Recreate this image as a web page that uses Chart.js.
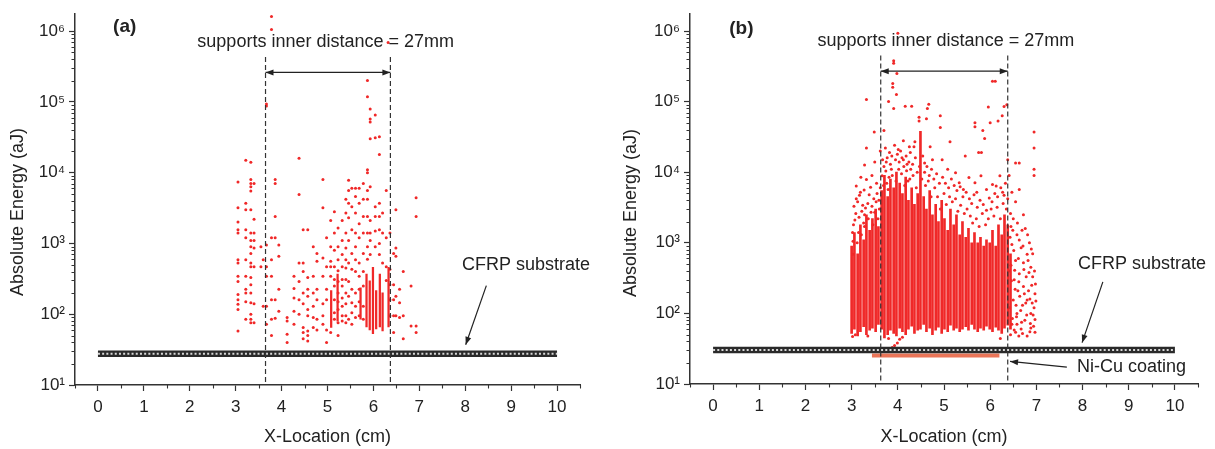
<!DOCTYPE html>
<html><head><meta charset="utf-8">
<script src="https://cdn.jsdelivr.net/npm/chart.js@4.4.0/dist/chart.umd.min.js"></script>
<style>
html,body{margin:0;padding:0;background:#fff;}
#wrap{position:relative;width:1215px;height:449px;overflow:hidden;}
canvas{position:absolute;top:0;}
#ca{left:0;}
#cb{left:607px;}
</style></head><body>
<div id="wrap"><canvas id="ca" width="607" height="449"></canvas><canvas id="cb" width="608" height="449"></canvas></div>
<script>
const FONT = '"Liberation Sans", Arial, Helvetica, sans-serif';
const RED = '#f02828';

// tick values
const xTickValues = [-0.5,0,0.5,1,1.5,2,2.5,3,3.5,4,4.5,5,5.5,6,6.5,7,7.5,8,8.5,9,9.5,10,10.5];
const xTickLabels = ['','0','','1','','2','','3','','4','','5','','6','','7','','8','','9','','10',''];
const yTickValues = [10,20,30,40,50,60,70,80,90,100,200,300,400,500,600,700,800,900,
  1000,2000,3000,4000,5000,6000,7000,8000,9000,10000,20000,30000,40000,50000,60000,70000,80000,90000,
  100000,200000,300000,400000,500000,600000,700000,800000,900000,1000000];
const yMajorLabels = {10:'10\u00B9',100:'10\u00B2',1000:'10\u00B3',10000:'10\u2074',100000:'10\u2075',1000000:'10\u2076'};

// ---- panel (a): scattered AE hits, grouped by x-location [x (cm), energies (aJ)]
const aScatter = [
 [3.05,[7400,3200,2000,1560,1400,590,530,345,290,190,160,138,117,58]],
 [3.22,[15000,3700,3000,1560,1200,590,345,225,200,150,85]],
 [3.33,[14000,8000,7000,6300,5500,3000,1400,1100,900,720,530,470,330,260,200,145,100,85,76]],
 [3.40,[7000,2200,1400,1100,860,470,140,76]],
 [3.55,[900,470]],
 [3.60,[590,130]],
 [3.67,[93000,87000,950,470,345,130,72]],
 [3.78,[1600000,1050000,1200,590,345,160,85,50]],
 [3.86,[8000,7000,2400,1200,160,88]],
 [3.94,[950,660,225,110]],
 [4.12,[90,80,52,40]],
 [4.27,[345,230,170,110,72]],
 [4.38,[16000,4900,530,290,160,100]],
 [4.47,[1560,530,400,200,140,65,55,45]],
 [4.57,[1560,330,225,180,117,95,58,50,42]],
 [4.69,[900,345,200,130,90,65]],
 [4.77,[720,560,225,160,85,60]],
 [4.90,[8000,3200,620,345,140,95,72]],
 [4.98,[1200,470,225,160,60,40]],
 [5.07,[2100,900,560,470,345,55]],
 [5.15,[2800,1400,800,470,310,250,160,105,85]],
 [5.23,[1650,900,590,410,290,200,150,117,76,50]],
 [5.32,[2100,1100,700,470,310,250,170,130,95,80]],
 [5.40,[4200,2700,1400,860,590,450,310,200,140,95,76]],
 [5.46,[7800,5600,3700,2300,1100,530,290,180,85]],
 [5.53,[6000,3300,1560,720,430,225,145,105,72]],
 [5.61,[6000,4600,2700,1400,900,590,400,200,130,90]],
 [5.69,[6000,3700,1900,1200,530,345,225,150,95]],
 [5.78,[7000,4200,2400,1400,720,400,250,130,85]],
 [5.87,[200000,118000,11000,10000,5600,4200,2400,1400,900,600]],
 [5.93,[79000,57000,52000,30000,6300,2100,1400,1100,700]],
 [6.04,[65000,31000,3300,2400,1500,900]],
 [6.13,[32000,18000,3700,2400,1560,1000,700]],
 [6.20,[2700,1400,530]],
 [6.28,[5600,1200,470,300]],
 [6.32,[690000]],
 [6.36,[1400,430,260,160,95]],
 [6.44,[720,260,160,95,55]],
 [6.49,[3000,860,660,180,95]],
 [6.57,[225,145,90]],
 [6.65,[400,95,45]],
 [6.82,[250,68]],
 [6.93,[4400,2400,68,55]]
];
// dense runs of hits in (a): [x, lowest, highest]
const aStreaks = [[5.08,65,215],[5.22,80,370],[5.72,85,235],[5.85,66,370],[5.92,60,295],
  [5.99,53,460],[6.06,62,215],[6.14,66,370],[6.20,58,200],[6.33,66,460]];

// ---- panel (b): dense columns of hits [x, lowest, highest]
const bColumns = [
 [3.00,52,900],[3.06,60,1400],[3.13,48,700],[3.19,55,1800],[3.26,65,1100],[3.32,50,2500],
 [3.39,58,1500],[3.45,62,2200],[3.52,55,3000],[3.58,70,1700],[3.65,60,5500],[3.71,45,9000],
 [3.78,50,4500],[3.84,58,8000],[3.91,52,6000],[3.97,48,10000],[4.04,62,7000],[4.10,55,5000],
 [4.17,50,8500],[4.23,60,4000],[4.30,66,6000],[4.36,52,3500],[4.43,58,5000],[4.49,60,38000],
 [4.56,70,4500],[4.62,55,3000],[4.69,62,5500],[4.75,50,2500],[4.82,58,3500],[4.88,64,2000],
 [4.95,52,4000],[5.01,60,2200],[5.08,55,1500],[5.14,68,3000],[5.21,58,1800],[5.27,62,2500],
 [5.34,55,1300],[5.40,60,2000],[5.47,65,1200],[5.53,58,1600],[5.60,70,1000],[5.66,60,1400],
 [5.73,55,1000],[5.79,62,1200],[5.86,58,900],[5.92,66,1100],[5.99,60,1000],[6.05,55,1500],
 [6.12,64,900],[6.18,58,1800],[6.25,52,1300],[6.31,62,2500],[6.38,68,1800],[6.44,60,700]
];
// scattered hits in (b): [x, energy]
const bScatter = [
 [4.00,930000],[3.91,380000],[3.91,350000],[3.98,250000],[3.89,180000],[3.89,160000],[3.97,126000],
 [6.05,195000],[6.11,195000],[3.32,107000],[3.80,100000],[3.91,80000],[4.16,86000],[4.30,86000],
 [4.67,92000],[4.64,80000],[4.92,63000],[5.96,84000],[6.30,85000],[6.36,90000],[6.26,63000],
 [4.46,60000],[4.46,53000],[4.62,57000],[3.70,39000],[3.49,37000],[6.95,37000],[6.95,22000],
 [6.95,11000],[6.95,9000],[4.92,43000],[5.67,50000],[5.67,44000],[5.84,39000],[6.00,50000],
 [6.17,53000],[3.32,22000],[3.28,12600],[3.62,20000],[4.12,28000],[4.25,23000],[4.37,27000],
 [4.70,23000],[5.13,27000],[5.46,17000],[5.75,19000],[5.81,19000],[5.88,30000],[6.55,13500],
 [6.63,13500],[6.38,15000],
 [3.10,6400],[3.19,5200],[3.10,4200],[3.24,3400],[3.03,1050],[3.03,690],[3.32,7900],[3.41,6100],
 [3.28,2500],[3.53,3800],[3.57,2200],[3.66,8900],[3.74,10400],[3.79,5700],[4.12,15000],[4.20,13000],
 [4.58,13500],[4.75,15000],[4.96,15000],[5.08,11000],[5.25,9800],[5.33,7100],[5.42,5700],[5.54,8400],
 [5.67,7100],[5.71,5200],[5.80,8900],[5.92,5700],[6.05,6700],[6.13,6400],[6.21,8900],[6.30,4700],
 [6.47,5200],[6.55,3800],[6.63,5700],[6.72,2500],[6.76,1600],
 [3.70,12000],[3.76,7000],[3.84,13000],[3.88,9000],[3.95,15000],[4.02,11000],[4.08,9500],[4.15,6500],
 [4.22,7500],[4.28,11000],[4.33,9000],[4.40,6000],[4.52,8000],[4.60,6500],[4.66,7500],[4.72,4500],
 [4.80,6000],[4.86,4500],[4.92,3000],[5.00,5000],[5.05,3500],[5.12,4500],[5.18,3800],[5.25,4200],
 [5.30,2800],[5.36,3400],[5.44,2600],[5.50,3000],[5.57,2400],[5.62,1900],[5.70,2200],[5.76,1700],
 [5.83,2600],[5.90,1800],[5.96,2200],[6.02,3000],[6.08,2400],[6.15,3200],[6.22,2200],[6.28,3600],
 [6.35,3000],[3.04,1800],[3.09,2600],[3.15,1400],[3.22,2800],[3.28,1700],[3.35,3600],[3.42,2700],
 [3.48,4200],[3.55,5000],[3.60,3000],[3.05,3300],[3.17,4700],
 [3.67,15000],[3.73,22000],[3.77,16000],[3.82,19000],[3.86,11000],[3.93,24000],[3.99,18000],[4.03,14000],
 [4.06,20000],[4.13,12000],[4.18,17000],[4.24,14000],[4.27,19000],[4.32,13000],[4.38,16000],[4.42,10000],
 [4.47,12000],[4.54,17000],[4.58,10000],[4.63,12000],[4.68,9000],[4.73,11000],[4.78,8000],[4.84,9500],
 [4.90,7000],[4.97,8500],[5.03,7000],[5.10,6000],[5.16,8000],[5.22,6500],[5.28,5500],[5.35,6200],
 [5.41,4500],[5.48,5200],[5.55,4200],[5.60,3600],[5.65,4800],[5.72,3200],[5.78,4000],[5.85,3500],
 [5.92,2900],[5.98,4300],[6.04,3800],[6.10,5000],[6.16,4500],[6.23,6000],[6.27,5200],[6.33,7000],
 [6.38,4200],[6.41,9000],[3.69,6500],[3.75,14000],[3.81,8500],[3.87,17000],[3.96,7500],[4.01,21000],
 [4.09,16000],[4.19,10500],[4.26,8000],[4.35,23000],
 [3.02,1400],[3.07,2100],[3.12,1000],[3.16,2300],[3.21,1300],[3.26,1900],[3.30,3100],[3.36,2200],
 [3.38,4800],[3.44,3300],[3.46,1800],[3.50,2700],[3.54,7000],[3.59,4000],[3.62,6000],[3.13,3800],
 [3.20,8500],[3.27,5600],[3.44,9000],[3.50,14000],
 [6.50,2200],[6.58,1300],[6.67,850],[6.80,690],[6.88,450],[6.92,330],[6.97,190],[6.47,950],
 [6.55,560],[6.63,365],[6.72,240],[6.80,155],[6.88,100],[6.97,82],[6.67,60],[6.55,54],[6.80,48],
 [6.42,400],[6.50,155],[6.58,100],[6.75,80],[6.88,62],[6.97,54],[6.47,70],[6.63,1100],[6.72,520],
 [6.85,1000],[6.92,700],[6.45,1700],[6.52,300],[6.60,210],[6.70,130],[6.78,330],[6.83,210],
 [6.95,120],[6.90,250],[6.44,2600],[6.42,120],[6.48,85],[6.58,70],
 [6.43,1200],[6.45,480],[6.46,290],[6.49,1500],[6.51,780],[6.53,410],[6.54,220],[6.56,130],
 [6.57,90],[6.59,1900],[6.61,600],[6.62,280],[6.64,175],[6.66,110],[6.68,75],[6.69,1500],
 [6.71,900],[6.73,420],[6.74,190],[6.77,140],[6.79,95],[6.81,1300],[6.82,560],[6.84,380],
 [6.86,160],[6.87,72],[6.89,820],[6.91,140],[6.93,95],[6.96,400],[6.98,260],[6.99,150],
 [6.94,66],[6.86,55],[6.70,52],[6.62,48],[6.52,58],[6.44,50],
 [3.88,33],[3.93,35],[3.99,38],[4.04,43],[6.22,44],[3.80,44],[4.10,46],[3.02,47],[3.08,50],[3.35,48]
];

// ---- layer levels (aJ) and extents (cm)
const aSubstrate = {from:0, to:10, level:27.7};
const bSubstrate = {from:0, to:10, level:30.2};
const bCoating   = {from:3.44, to:6.2, level:25.3};
const aSupports = [3.65, 6.37];
const bSupports = [3.63, 6.38];

function isMajor(v){ const l = Math.log10(v); return Math.abs(l - Math.round(l)) < 1e-9; }

function makeAnnot(P){
  return {
    id:'annot'+P.id,
    afterDraw(chart){
      const ctx = chart.ctx, xs = chart.scales.x, ys = chart.scales.y, ca = chart.chartArea;
      const X = v => xs.getPixelForValue(v), Y = v => ys.getPixelForValue(v);
      ctx.save();
      // minor ticks
      ctx.strokeStyle = '#333'; ctx.lineWidth = 1.1;
      ctx.beginPath();
      yTickValues.forEach(v => { if (!isMajor(v)) { const p = Math.round(Y(v))+0.5; ctx.moveTo(ca.left-3.5,p); ctx.lineTo(ca.left,p);} });
      xTickValues.forEach((v,i) => { if (xTickLabels[i]==='') { const p = Math.round(X(v))+0.5; ctx.moveTo(p,ca.bottom); ctx.lineTo(p,ca.bottom+3.5);} });
      ctx.stroke();
      // double arrow between supports
      const ay = Y(P.arrowE), x1 = X(P.supports[0]), x2 = X(P.supports[1]);
      head(ctx, x2, ay, x1, ay); head(ctx, x1, ay, x2, ay);
      // texts
      ctx.fillStyle = '#222';
      ctx.textBaseline = 'middle';
      ctx.font = 'bold 19px ' + FONT; ctx.textAlign = 'left';
      ctx.fillText(P.label, X(P.labelAt[0]), Y(P.labelAt[1]));
      ctx.font = '18px ' + FONT; ctx.textAlign = 'center';
      ctx.fillText('supports inner distance = 27mm', X(P.supportTextAt[0]), Y(P.supportTextAt[1]));
      ctx.textAlign = 'left';
      ctx.fillText('CFRP substrate', X(P.cfrpTextAt[0]), Y(P.cfrpTextAt[1]));
      arrow(ctx, X(P.cfrpArrow[0]), Y(P.cfrpArrow[1]), X(P.cfrpArrow[2]), Y(P.cfrpArrow[3]));
      if (P.nicu) {
        ctx.fillText('Ni-Cu coating', X(P.nicu.textAt[0]), Y(P.nicu.textAt[1]));
        arrow(ctx, X(P.nicu.arrow[0]), Y(P.nicu.arrow[1]), X(P.nicu.arrow[2]), Y(P.nicu.arrow[3]));
      }
      // axis titles
      ctx.textAlign = 'center';
      ctx.fillText('X-Location (cm)', (ca.left+ca.right)/2, P.xTitleY);
      ctx.translate(P.yTitle[0], P.yTitle[1]); ctx.rotate(-Math.PI/2);
      ctx.fillText('Absolute Energy (aJ)', 0, 0);
      ctx.restore();
    }
  };
}
function head(ctx, fx, fy, tx, ty){
  const a = Math.atan2(ty-fy, tx-fx), L = 8, W = 3;
  ctx.fillStyle = '#222';
  ctx.beginPath();
  ctx.moveTo(tx, ty);
  ctx.lineTo(tx - L*Math.cos(a) + W*Math.sin(a), ty - L*Math.sin(a) - W*Math.cos(a));
  ctx.lineTo(tx - L*Math.cos(a) - W*Math.sin(a), ty - L*Math.sin(a) + W*Math.cos(a));
  ctx.closePath(); ctx.fill();
}
function arrow(ctx, fx, fy, tx, ty){
  ctx.strokeStyle = '#222'; ctx.lineWidth = 1.2;
  ctx.beginPath(); ctx.moveTo(fx, fy); ctx.lineTo(tx, ty); ctx.stroke();
  head(ctx, fx, fy, tx, ty);
}

function lineDS(points, color, width, dash, order){
  return {type:'line', data:points, borderColor:color, borderWidth:width, borderDash:dash||[],
    pointRadius:0, fill:false, tension:0, borderCapStyle:'butt', order:order};
}

function buildChart(canvasId, P){
  const datasets = [];
  P.supports.forEach(s => datasets.push(lineDS([{x:s,y:P.supportTop},{x:s,y:10}], '#333', 1.2, [5,3], 0)));
  datasets.push(lineDS([{x:P.supports[0],y:P.arrowE},{x:P.supports[1],y:P.arrowE}], '#222', 1.3, [], 0));
  datasets.push(lineDS([{x:P.substrate.from,y:P.substrate.level},{x:P.substrate.to,y:P.substrate.level}], '#2a2a2a', 6.5, [], 1));
  datasets.push(lineDS([{x:P.substrate.from,y:P.substrate.level},{x:P.substrate.to,y:P.substrate.level}], '#d8d8d8', 2, [2,2.2], 0));
  if (P.coating) datasets.push(lineDS([{x:P.coating.from,y:P.coating.level},{x:P.coating.to,y:P.coating.level}], '#ea7558', 4, [], 1));
  datasets.push({type:'scatter', data:P.points.map(p => ({x:p[0], y:p[1]})), backgroundColor:RED,
    borderWidth:0, pointRadius:1.5, pointStyle:'circle', order:2});
  datasets.push({type:'bar', data:P.bars.map(b => ({x:b[0], y:[b[1], b[2]]})), backgroundColor:RED,
    borderWidth:0, barThickness:P.barW, order:3});

  return new Chart(document.getElementById(canvasId), {
    type:'scatter',
    data:{datasets},
    plugins:[makeAnnot(P)],
    options:{
      responsive:false, animation:false, events:[],
      layout:{padding:P.padding},
      plugins:{legend:{display:false}, tooltip:{enabled:false}},
      scales:{
        x:{type:'linear', min:-0.5, max:10.5, offset:false,
          afterBuildTicks: s => { s.ticks = xTickValues.map(v => ({value:v})); },
          afterFit: s => { s.height = P.xH; },
          ticks:{autoSkip:false, maxRotation:0, padding:6, color:'#222', font:{family:FONT, size:17},
            callback:(v,i) => xTickLabels[i]},
          grid:{offset:false, drawOnChartArea:false, drawTicks:true, tickLength:6, tickWidth:1.2,
            tickColor: c => (xTickLabels[c.index] !== '' ? '#333' : 'rgba(0,0,0,0)')},
          border:{display:true, color:'#333', width:1.5}
        },
        y:{type:'logarithmic', min:10, max:P.yMax, offset:false,
          afterBuildTicks: s => { s.ticks = yTickValues.map(v => ({value:v})); },
          afterFit: s => { s.width = P.yW; },
          ticks:{autoSkip:false, padding:4, color:'#222', font:{family:FONT, size:17},
            callback:(v) => yMajorLabels[v] || ''},
          grid:{drawOnChartArea:false, drawTicks:true, tickLength:6, tickWidth:1.2,
            tickColor: c => (c.tick && isMajor(c.tick.value) ? '#333' : 'rgba(0,0,0,0)')},
          border:{display:true, color:'#333', width:1.5}
        }
      }
    }
  });
}

const aPoints = [];
aScatter.forEach(([x, es]) => es.forEach(e => aPoints.push([x, e])));

buildChart('ca', {
  id:'a', points:aPoints, bars:aStreaks, substrate:aSubstrate, coating:null, barW:1.6,
  supports:aSupports, supportTop:430000, arrowE:260000,
  padding:{left:0, right:27, top:12, bottom:0}, yW:75, xH:64, yMax:1730000,
  label:'(a)', labelAt:[0.33,1140000], supportTextAt:[4.96,700000],
  cfrpTextAt:[7.93,490], cfrpArrow:[8.46,253,8.01,37],
  xTitleY:437, yTitle:[18,212]
});
buildChart('cb', {
  id:'b', points:bScatter, bars:bColumns, substrate:bSubstrate, coating:bCoating, barW:2,
  supports:bSupports, supportTop:450000, arrowE:270000,
  padding:{left:0, right:17, top:8, bottom:0}, yW:83, xH:65, yMax:1730000,
  label:'(b)', labelAt:[0.35,1070000], supportTextAt:[5.04,720000],
  cfrpTextAt:[7.9,500], cfrpArrow:[8.44,280,7.99,38.5],
  nicu:{textAt:[7.88,17.3], arrow:[7.66,17.3,6.43,20.9]},
  xTitleY:437, yTitle:[24,213]
});
</script>
</body></html>
